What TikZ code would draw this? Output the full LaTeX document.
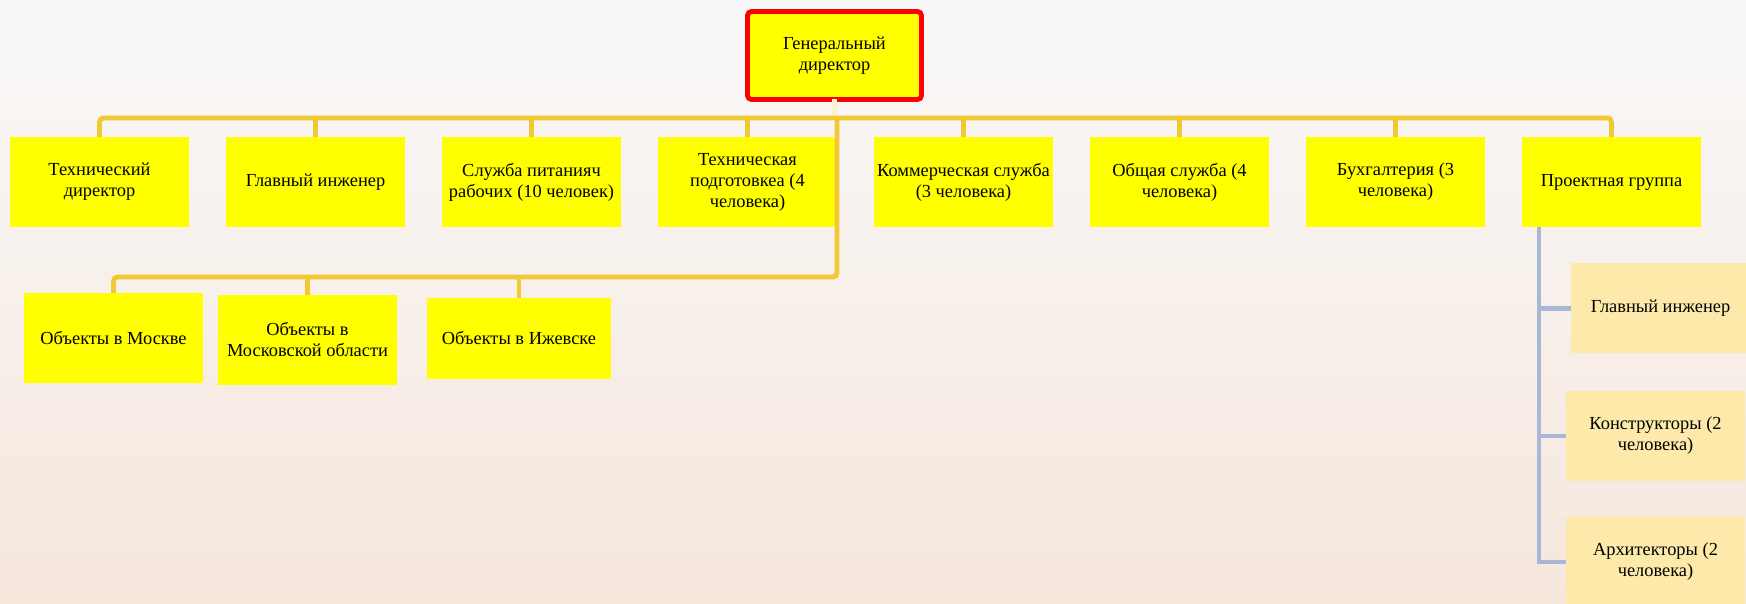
\documentclass[tikz,border=0pt]{standalone}
\usepackage{fontspec}
\setmainfont{Liberation Serif}
\newfontfamily\orgfont{Liberation Serif}
\usepackage{tikz}
\usetikzlibrary{positioning, calc}
\definecolor{deptyellow}{RGB}{255,255,0}
\definecolor{goldline}{RGB}{242,201,52}
\definecolor{subbeige}{RGB}{253,233,170}
\definecolor{subline}{RGB}{168,184,212}
\definecolor{bgtop}{RGB}{248,248,248}
\definecolor{bgmid}{RGB}{243,243,243}
\definecolor{bgbot}{RGB}{246,231,221}

\begin{document}
\begin{tikzpicture}[
  x=0.5pt, y=-0.5pt,
  node distance = 18.5pt,
  dept/.style = {
    fill=deptyellow, minimum width=89.5pt, minimum height=45pt,
    inner sep=1pt, outer sep=0pt, align=center,
    font=\orgfont\fontsize{9.2}{10.5}\selectfont
  },
  chief/.style = { dept, draw=red, line width=2.4pt, rounded corners=2pt,
    minimum width=87pt, minimum height=44pt },
  sub/.style = { dept, fill=subbeige },
  lnk/.style = { draw=goldline, line width=2.4pt, rounded corners=2pt },
  stem/.style = { draw=goldline!25!white, line width=2.4pt },
  sublnk/.style = { draw=subline, line width=2.2pt }
]

\clip (0,0) rectangle (1746,604);
\shade[top color=bgtop, middle color=bgmid, bottom color=bgbot] (0,0) rectangle (1746,604);

% top of the tree
\node[chief] (gd) at (834.5,55.5) {Генеральный\\директор};

% departments
\node[dept] (t1) at (99.5,182) {Технический\\директор};
\node[dept, right=of t1] (t2) {Главный инженер};
\node[dept, right=of t2] (t3) {Служба питанияч\\рабочих (10 человек)};
\node[dept, right=of t3] (t4) {Техническая\\подготовкеа (4\\человека)};
\node[dept, right=of t4] (t5) {Коммерческая служба\\(3 человека)};
\node[dept, right=of t5] (t6) {Общая служба (4\\человека)};
\node[dept, right=of t6] (t7) {Бухгалтерия (3\\человека)};
\node[dept, right=of t7] (t8) {Проектная группа};

% sites
\node[dept] (b1) at (113.5,338) {Объекты в Москве};
\node[dept] (b2) at (307.5,340) {Объекты в\\Московской области};
\node[dept, minimum width=92pt, minimum height=40.5pt] (b3) at (519,338.5) {Объекты в Ижевске};

% project group
\node[sub] (s1) at (1660.5,308.5) {Главный инженер};
\node[sub] (s2) at (1655.5,436) {Конструкторы (2\\человека)};
\node[sub] (s3) at (1655.5,562) {Архитекторы (2\\человека)};

\coordinate (bus) at (0,118);
\coordinate (lowbus) at (0,277);
\coordinate (spine) at (1539,0);

\draw[stem] (gd.south) -- (gd.south |- bus);
\draw[lnk] (t1.north) -- (t1.north |- bus) -- (t8.north |- bus) -- (t8.north);
\foreach \n in {t2,t3,t4,t5,t6,t7}
  \draw[lnk] (\n.north) -- (\n.north |- bus);
\draw[lnk] (t4.east |- bus) -- (t4.east |- lowbus) -- (b1.north |- lowbus) -- (b1.north);
\foreach \n in {b2,b3}
  \draw[lnk] (\n.north) -- (\n.north |- lowbus);

\draw[sublnk] (t8.south -| spine) |- (s3.west);
\foreach \n in {s1,s2}
  \draw[sublnk] (spine |- \n.west) -- (\n.west);

\end{tikzpicture}
\end{document}
